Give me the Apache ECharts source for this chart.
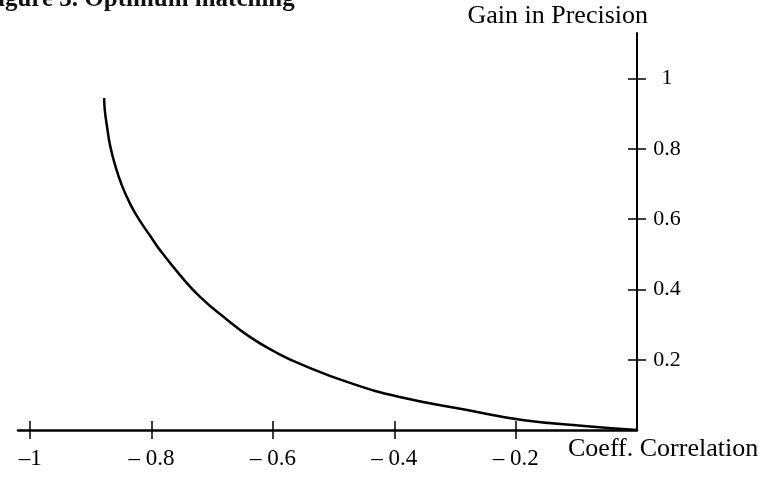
<!DOCTYPE html>
<html>
<head>
<meta charset="utf-8">
<script src="https://cdn.jsdelivr.net/npm/echarts@6/dist/echarts.min.js"></script>
<style>
  html, body { margin: 0; padding: 0; background: #fff; }
  #chart { width: 769px; height: 484px; }
</style>
</head>
<body>
<div id="chart"></div>
<script>
/* ---------------------------------- Data ---------------------------------- */
const correlation = [-0.878, -0.877, -0.873, -0.868, -0.86, -0.849, -0.835, -0.819, -0.802,
  -0.786, -0.753, -0.72, -0.679, -0.638, -0.596, -0.555, -0.473, -0.391, -0.28, -0.186,
  -0.082, 0];
const gain = [0.945, 0.911, 0.86, 0.808, 0.754, 0.697, 0.643, 0.595, 0.552,
  0.512, 0.441, 0.379, 0.319, 0.265, 0.222, 0.188, 0.134, 0.094, 0.057, 0.028,
  0.011, 0];

const xTickValues = [-1, -0.8, -0.6, -0.4, -0.2];
const xTickLabels = ['\u20131', '\u2013 0.8', '\u2013 0.6', '\u2013 0.4', '\u2013 0.2'];
const yTickValues = [0.2, 0.4, 0.6, 0.8, 1];
const yTickLabels = ['0.2', '0.4', '0.6', '0.8', '1'];

const xName = 'Coeff. Correlation';
const yName = 'Gain in Precision';
const caption = 'igure 3. Optimum matching';

/* ---------------------------------- Utils --------------------------------- */
const FONT = '"Liberation Serif", "Times New Roman", serif';
const labelFor = (values, labels) => v => {
  const i = values.findIndex(t => Math.abs(t - v) < 1e-9);
  return i >= 0 ? labels[i] : '';
};

const tickStyle = { color: '#000', width: 1.5 };

const chartInit = () => {
  const $chart = document.getElementById('chart');
  const chart = echarts.init($chart, null, { renderer: 'canvas' });

  const baseX = {
    type: 'value',
    min: -1.02,
    max: 0,
    position: 'bottom',
    splitLine: { show: false }
  };
  const baseY = {
    type: 'value',
    min: 0,
    max: 1.13,
    position: 'right',
    splitLine: { show: false },
    axisLine: { show: true, onZero: false, lineStyle: { color: '#000', width: 2 } }
  };

  chart.setOption({
    animation: false,
    backgroundColor: '#fff',
    grid: { left: 18, right: 132, top: 33, bottom: 54 },
    graphic: [
      {
        type: 'text',
        left: -2,
        top: -13,
        style: {
          text: caption,
          font: 'bold 25px ' + FONT,
          fill: '#111'
        }
      }
    ],
    xAxis: [
      Object.assign({}, baseX, {
        name: xName,
        nameLocation: 'end',
        nameGap: -69,
        nameTextStyle: {
          fontFamily: FONT,
          fontSize: 26,
          color: '#000',
          align: 'left',
          verticalAlign: 'top',
          padding: [6, 0, 0, 0]
        },
        axisLine: { show: true, onZero: false, lineStyle: { color: '#000', width: 2.5 } },
        axisTick: {
          show: true,
          inside: false,
          length: 9,
          customValues: xTickValues,
          lineStyle: tickStyle
        },
        axisLabel: {
          show: true,
          margin: 17,
          customValues: xTickValues,
          formatter: labelFor(xTickValues, xTickLabels),
          fontFamily: FONT,
          fontSize: 23,
          color: '#000'
        }
      }),
      Object.assign({}, baseX, {
        axisLine: { show: false },
        axisTick: {
          show: true,
          inside: true,
          length: 9,
          customValues: xTickValues,
          lineStyle: tickStyle
        },
        axisLabel: { show: false }
      })
    ],
    yAxis: [
      Object.assign({}, baseY, {
        name: yName,
        nameLocation: 'end',
        nameGap: 4,
        nameTextStyle: {
          fontFamily: FONT,
          fontSize: 26,
          color: '#000',
          align: 'right',
          verticalAlign: 'bottom',
          padding: [0, -11, 0, 0]
        },
        axisTick: {
          show: true,
          inside: false,
          length: 9,
          customValues: yTickValues,
          lineStyle: tickStyle
        },
        axisLabel: {
          show: true,
          margin: 30,
          align: 'center',
          customValues: yTickValues,
          formatter: labelFor(yTickValues, yTickLabels),
          fontFamily: FONT,
          fontSize: 22,
          color: '#000'
        }
      }),
      Object.assign({}, baseY, {
        axisLine: { show: false },
        axisTick: {
          show: true,
          inside: true,
          length: 9,
          customValues: yTickValues,
          lineStyle: tickStyle
        },
        axisLabel: { show: false }
      })
    ],
    series: [
      {
        type: 'line',
        xAxisIndex: 0,
        yAxisIndex: 0,
        data: correlation.map((c, i) => [c, gain[i]]),
        smooth: 0.5,
        showSymbol: false,
        lineStyle: { color: '#000', width: 2.5 }
      }
    ]
  });
};

chartInit();
</script>
</body>
</html>
